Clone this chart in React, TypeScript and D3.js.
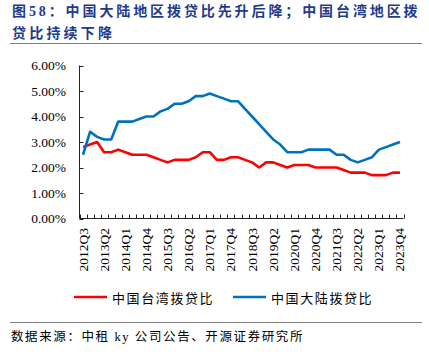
import React, { useRef, useEffect } from 'react';
import * as d3 from 'd3';

// 2012Q3 .. 2023Q4
const quarters: string[] = [];
for (let y = 2012; y <= 2023; y++) {
  for (let q = 1; q <= 4; q++) {
    if (y === 2012 && q < 3) continue;
    quarters.push(`${y}Q${q}`);
  }
}

const taiwan = [
  2.8, 2.9, 3.0, 2.6, 2.6, 2.7, 2.6, 2.5, 2.5, 2.5, 2.4, 2.3, 2.2, 2.3, 2.3, 2.3,
  2.4, 2.6, 2.6, 2.3, 2.3, 2.4, 2.4, 2.3, 2.2, 2.0, 2.2, 2.2, 2.1, 2.0, 2.1, 2.1,
  2.1, 2.0, 2.0, 2.0, 2.0, 1.9, 1.8, 1.8, 1.8, 1.7, 1.7, 1.7, 1.8, 1.8,
];
const mainland = [
  2.5, 3.4, 3.2, 3.1, 3.1, 3.8, 3.8, 3.8, 3.9, 4.0, 4.0, 4.2, 4.3, 4.5, 4.5, 4.6,
  4.8, 4.8, 4.9, 4.8, 4.7, 4.6, 4.6, 4.3, 4.0, 3.7, 3.4, 3.1, 2.9, 2.6, 2.6, 2.6,
  2.7, 2.7, 2.7, 2.7, 2.5, 2.5, 2.3, 2.2, 2.3, 2.4, 2.7, 2.8, 2.9, 3.0,
];
const yTicks = [0, 1, 2, 3, 4, 5, 6];

const series = [
  { name: '中国台湾拨贷比', values: taiwan, color: '#FF0000' },
  { name: '中国大陆拨贷比', values: mainland, color: '#0070C0' },
];

const serif = '"Liberation Serif", "DejaVu Serif", serif';
const cjk = '"Noto Sans CJK SC"';

export default function App() {
  const ref = useRef<SVGSVGElement>(null);

  useEffect(() => {
    if (!ref.current) return;
    const svg = d3.select(ref.current);
    svg.selectAll('*').remove();

    const left = 79.5, right = 403.5, top = 65.5, bottom = 218.5;

    // title
    const title = svg.append('g').attr('fill', '#1F3B8C').attr('font-weight', 'bold')
      .style('font-family', `${serif}, ${cjk}`).attr('font-size', '14px');
    title.append('text').attr('x', 12).attr('y', 15.5).attr('letter-spacing', '2.9px')
      .text('图58：中国大陆地区拨贷比先升后降；中国台湾地区拨');
    title.append('text').attr('x', 12).attr('y', 38).attr('letter-spacing', '3.2px')
      .text('贷比持续下降');

    svg.append('line').attr('x1', 10).attr('x2', 422).attr('y1', 43.5).attr('y2', 43.5)
      .attr('stroke', '#808080').attr('stroke-width', 1);

    const x = d3.scaleBand<string>().domain(quarters).range([left, right]).padding(0);
    const y = d3.scaleLinear().domain([0, 6]).range([bottom, top]);

    const g = svg.append('g');

    // y axis
    g.append('line').attr('x1', left).attr('x2', left).attr('y1', top).attr('y2', bottom)
      .attr('stroke', '#222');
    g.selectAll('.ytick').data(yTicks).enter().append('line')
      .attr('x1', left).attr('x2', left + 4)
      .attr('y1', (d) => Math.round(y(d)) + 0.5).attr('y2', (d) => Math.round(y(d)) + 0.5)
      .attr('stroke', '#222');
    g.selectAll('.ylab').data(yTicks).enter().append('text')
      .attr('x', 66).attr('y', (d) => y(d))
      .attr('text-anchor', 'end').attr('dominant-baseline', 'central')
      .style('font-family', serif).attr('font-size', '13.5px').attr('fill', '#000')
      .text((d) => `${d.toFixed(2)}%`);

    // x axis
    g.append('line').attr('x1', left).attr('x2', right).attr('y1', bottom).attr('y2', bottom)
      .attr('stroke', '#222');
    const bounds = quarters.map((q) => x(q)!).concat([right]);
    g.selectAll('.xtick').data(bounds).enter().append('line')
      .attr('x1', (d) => Math.round(d) + 0.5).attr('x2', (d) => Math.round(d) + 0.5)
      .attr('y1', bottom).attr('y2', bottom - 4)
      .attr('stroke', '#222');
    const labelled = quarters.filter((_, i) => i % 3 === 0);
    g.selectAll('.xlab').data(labelled).enter().append('text')
      .attr('transform', (d) => `translate(${x(d)! + x.bandwidth() / 2},${bottom + 9.5}) rotate(-90)`)
      .attr('text-anchor', 'end').attr('dominant-baseline', 'central')
      .style('font-family', serif).attr('font-size', '13.5px').attr('fill', '#000')
      .text((d) => d);

    // lines
    const line = d3.line<number>()
      .x((_, i) => x(quarters[i])! + x.bandwidth() / 2)
      .y((d) => y(d));
    series.forEach((s) => {
      g.append('path').attr('d', line(s.values)!).attr('fill', 'none')
        .attr('stroke', s.color).attr('stroke-width', 2.6).attr('stroke-linejoin', 'round');
    });

    // legend
    const legendX = [74, 233];
    series.forEach((s, i) => {
      g.append('line').attr('x1', legendX[i]).attr('x2', legendX[i] + 33)
        .attr('y1', 297).attr('y2', 297).attr('stroke', s.color).attr('stroke-width', 2.6);
      g.append('text').attr('x', legendX[i] + 38).attr('y', 297)
        .attr('dominant-baseline', 'central').style('font-family', cjk)
        .attr('font-size', '13px').attr('letter-spacing', '1.6px').attr('fill', '#000')
        .text(s.name);
    });

    svg.append('line').attr('x1', 10).attr('x2', 422).attr('y1', 322.5).attr('y2', 322.5)
      .attr('stroke', '#808080').attr('stroke-width', 1);
    svg.append('text').attr('x', 11).attr('y', 341)
      .style('font-family', `${serif}, ${cjk}`).attr('font-size', '12.5px').attr('letter-spacing', '1.6px')
      .attr('fill', '#000')
      .text('数据来源：中租 ky 公司公告、开源证券研究所');
  }, []);

  return (
    <div style={{ position: 'absolute', left: 0, top: 0 }}>
      <svg ref={ref} width={429} height={359} style={{ display: 'block', background: '#fff' }} />
    </div>
  );
}
